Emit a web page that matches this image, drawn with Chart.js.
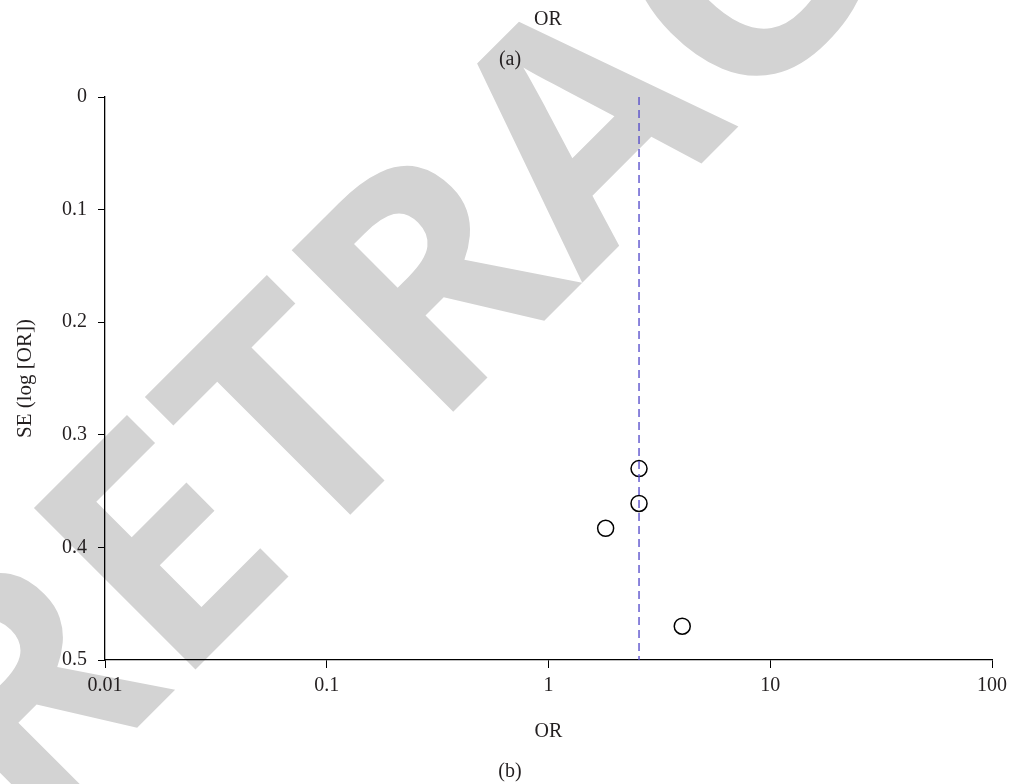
<!DOCTYPE html>
<html>
<head>
<meta charset="utf-8">
<script src="https://cdn.jsdelivr.net/npm/chart.js@4"></script>
<style>
  html, body { margin: 0; padding: 0; background: #fff; }
  canvas { display: block; }
</style>
</head>
<body>
<canvas id="funnelChart" width="1013" height="784"></canvas>
<script>
// Study estimates
const studyOR = [2.56, 2.56, 1.81, 4.01];
const studySE = [0.330, 0.361, 0.383, 0.470];
const pooledOR = 2.56;
const seRange = [0, 0.5];

const xTickValues = [0.01, 0.1, 1, 10, 100];
const xTickLabels = ['0.01', '0.1', '1', '10', '100'];
const yTickValues = [0, 0.1, 0.2, 0.3, 0.4, 0.5];
const yTickLabels = ['0', '0.1', '0.2', '0.3', '0.4', '0.5'];

const textColor = '#231f20';
const serif = '"Liberation Serif", "Times New Roman", serif';

// Grey "RETRACTED" stamp behind the plot
const watermarkPlugin = {
    id: 'watermark',
    beforeDraw(chart) {
        const ctx = chart.ctx;
        ctx.save();
        ctx.translate(452, 413);
        ctx.rotate(-Math.PI / 4);
        ctx.font = 'bold 320px "Open Sans"';
        ctx.fillStyle = '#d3d3d3';
        ctx.textBaseline = 'alphabetic';
        ctx.textAlign = 'left';
        const lead = ctx.measureText('RET').width;
        ctx.fillText('RETRACTED', -lead - 27, 0);
        ctx.restore();
    }
};

// Panel captions
const captionPlugin = {
    id: 'captions',
    afterDraw(chart) {
        const ctx = chart.ctx;
        ctx.save();
        ctx.fillStyle = textColor;
        ctx.font = '20px ' + serif;
        ctx.textAlign = 'center';
        ctx.textBaseline = 'middle';
        ctx.fillText('OR', 548, 20);
        ctx.fillText('(a)', 510, 60);
        ctx.fillText('(b)', 510, 772);
        ctx.restore();
    }
};

function drawChart() {
    const points = studyOR.map((v, i) => ({ x: v, y: studySE[i] }));
    const pooledLine = seRange.map(se => ({ x: pooledOR, y: se }));

    const ctx = document.getElementById('funnelChart').getContext('2d');
    new Chart(ctx, {
        type: 'scatter',
        data: {
            datasets: [
                {
                    label: 'Pooled OR',
                    data: pooledLine,
                    showLine: true,
                    borderColor: '#4f45c9',
                    borderWidth: 1.3,
                    borderDash: [8, 5],
                    pointRadius: 0,
                    fill: false
                },
                {
                    label: 'Studies',
                    data: points,
                    pointStyle: 'circle',
                    pointRadius: 8,
                    pointBorderWidth: 1.5,
                    pointBorderColor: '#000',
                    pointBackgroundColor: 'rgba(0,0,0,0)'
                }
            ]
        },
        options: {
            responsive: false,
            animation: false,
            layout: {
                padding: { top: 97, right: 20, left: 0, bottom: 0 }
            },
            scales: {
                x: {
                    type: 'logarithmic',
                    min: 0.01,
                    max: 100,
                    afterBuildTicks: scale => {
                        scale.ticks = xTickValues.map(v => ({ value: v, major: true }));
                    },
                    afterFit: scale => { scale.height = 124; },
                    ticks: {
                        color: textColor,
                        padding: 6,
                        maxRotation: 0,
                        autoSkip: false,
                        font: { family: serif, size: 20 },
                        callback: (value) => {
                            const idx = xTickValues.indexOf(value);
                            return idx >= 0 ? xTickLabels[idx] : '';
                        }
                    },
                    grid: {
                        drawOnChartArea: false,
                        drawTicks: true,
                        tickLength: 8,
                        color: '#000'
                    },
                    border: { display: true, color: '#000', width: 1.3 },
                    title: {
                        display: true,
                        text: 'OR',
                        color: textColor,
                        font: { family: serif, size: 20 },
                        padding: { top: 0, bottom: 40 }
                    }
                },
                y: {
                    reverse: true,
                    min: seRange[0],
                    max: seRange[1],
                    afterBuildTicks: scale => {
                        scale.ticks = yTickValues.map(v => ({ value: v }));
                    },
                    afterFit: scale => { scale.width = 105; },
                    ticks: {
                        color: textColor,
                        padding: 11,
                        font: { family: serif, size: 20 },
                        callback: (value) => {
                            const idx = yTickValues.findIndex(v => Math.abs(v - value) < 1e-9);
                            return idx >= 0 ? yTickLabels[idx] : '';
                        }
                    },
                    grid: {
                        drawOnChartArea: false,
                        drawTicks: true,
                        tickLength: 7,
                        color: '#000'
                    },
                    border: { display: true, color: '#000', width: 1.3 },
                    title: {
                        display: true,
                        text: 'SE (log [OR])',
                        color: textColor,
                        font: { family: serif, size: 21 },
                        padding: { top: 13, bottom: 0 }
                    }
                }
            },
            plugins: {
                legend: { display: false },
                tooltip: { enabled: false }
            }
        },
        plugins: [watermarkPlugin, captionPlugin]
    });
}

Promise.all([
    document.fonts.load('bold 320px "Open Sans"'),
    document.fonts.load('20px "Liberation Serif"')
]).catch(() => {}).then(drawChart);
</script>
</body>
</html>
